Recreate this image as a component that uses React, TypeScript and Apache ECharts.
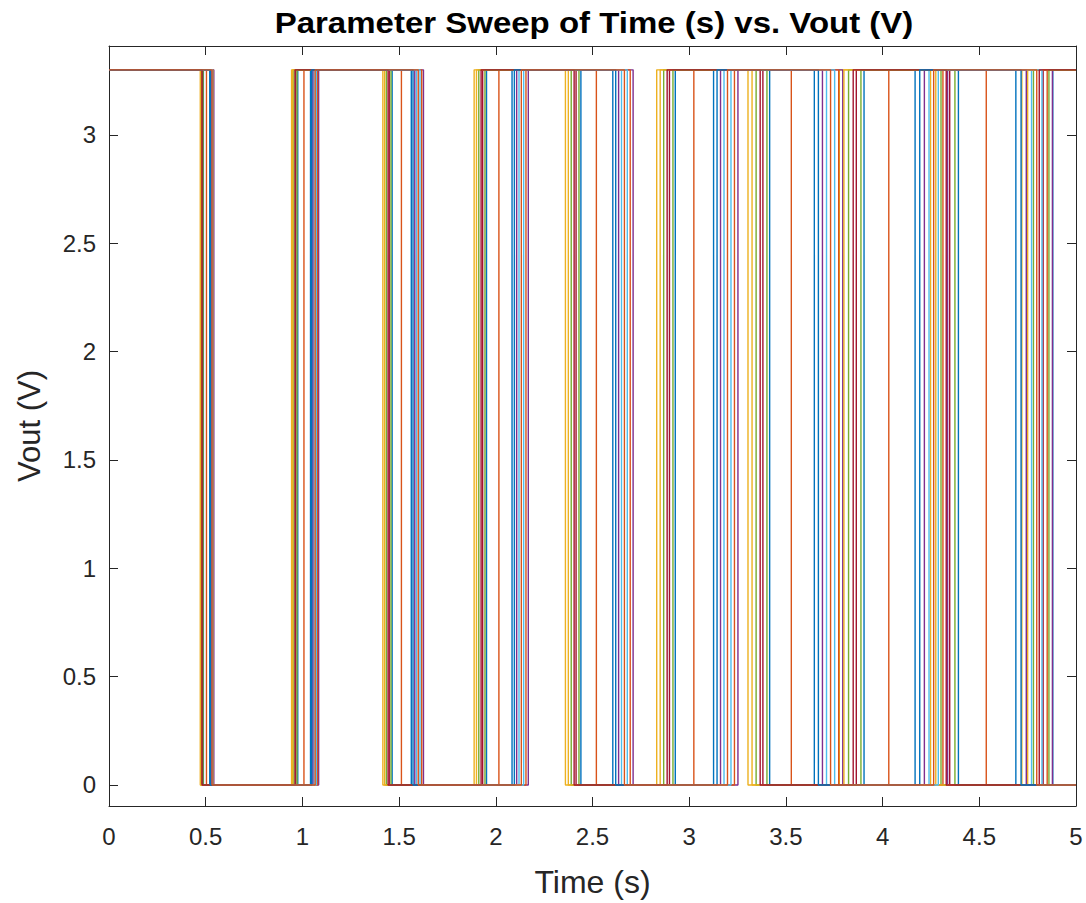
import React, { useEffect, useRef } from "react";
import * as echarts from "echarts";

// Transition (toggle) times of each swept waveform, in seconds. Every wave starts high.
const sw01 = [0.488, 0.976, 1.464, 1.952, 2.44, 2.928, 3.416, 3.904, 4.392, 4.88];
const sw02 = [0.504, 1.008, 1.512, 2.016, 2.52, 3.024, 3.528, 4.032, 4.536];
const sw03 = [0.472, 0.944, 1.416, 1.888, 2.36, 2.832, 3.304, 3.776, 4.248, 4.72];
const sw04 = [0.542, 1.084, 1.626, 2.168, 2.71, 3.252, 3.794, 4.336, 4.878];
const sw05 = [0.478, 0.956, 1.434, 1.912, 2.39, 2.868, 3.346, 3.824, 4.302, 4.78];
const sw06 = [0.53, 1.06, 1.59, 2.12, 2.65, 3.18, 3.71, 4.24, 4.77];
const sw07 = [0.483, 0.966, 1.449, 1.932, 2.415, 2.898, 3.381, 3.864, 4.347, 4.83];
const sw08 = [0.521, 1.042, 1.563, 2.084, 2.605, 3.126, 3.647, 4.168, 4.689];
const sw09 = [0.539, 1.078, 1.617, 2.156, 2.695, 3.234, 3.773, 4.312, 4.851];
const sw10 = [0.475, 0.95, 1.425, 1.9, 2.375, 2.85, 3.325, 3.8, 4.275, 4.75];
const sw11 = [0.527, 1.054, 1.581, 2.108, 2.635, 3.162, 3.689, 4.216, 4.743];
const sw12 = [0.486, 0.972, 1.458, 1.944, 2.43, 2.916, 3.402, 3.888, 4.374, 4.86];
const sw13 = [0.536, 1.072, 1.608, 2.144, 2.68, 3.216, 3.752, 4.288, 4.824];
const sw14 = [0.481, 0.962, 1.443, 1.924, 2.405, 2.886, 3.367, 3.848, 4.329, 4.81];
const sw15 = [0.524, 1.048, 1.572, 2.096, 2.62, 3.144, 3.668, 4.192, 4.716];
const sw16 = [0.533, 1.066, 1.599, 2.132, 2.665, 3.198, 3.731, 4.264, 4.797];

const sweeps = [sw01, sw02, sw03, sw04, sw05, sw06, sw07, sw08, sw09, sw10, sw11, sw12, sw13, sw14, sw15, sw16];

const HIGH = 3.3;
const LOW = 0;
const T_END = 5;

const xTicks = [0, 0.5, 1, 1.5, 2, 2.5, 3, 3.5, 4, 4.5, 5];
const yTicks = [0, 0.5, 1, 1.5, 2, 2.5, 3];

const palette = ["#0072BD", "#D95319", "#EDB120", "#7E2F8E", "#77AC30", "#4DBEEE", "#A2142F"];

function toSteps(edges: number[]): number[][] {
  const pts: number[][] = [[0, HIGH]];
  let level = HIGH;
  for (const t of edges) {
    pts.push([t, level]);
    level = level === HIGH ? LOW : HIGH;
    pts.push([t, level]);
  }
  pts.push([T_END, level]);
  return pts;
}

const FONT = '"Liberation Sans", Arial, Helvetica, sans-serif';
const INK = "#262626";

export default function App() {
  const ref = useRef<HTMLDivElement>(null);
  useEffect(() => {
    if (!ref.current) return;
    const chart = echarts.init(ref.current, undefined, { renderer: "svg" });
    const baseAxisX = {
      type: "value" as const,
      min: 0,
      max: 5,
      interval: 0.5,
      splitLine: { show: false },
      axisLine: { show: true, onZero: false, lineStyle: { color: INK, width: 1 } },
      axisTick: { show: true, inside: true, length: 9, lineStyle: { color: INK, width: 1 } },
    };
    const baseAxisY = {
      type: "value" as const,
      min: -0.097,
      max: 3.41,
      splitLine: { show: false },
      axisLine: { show: true, onZero: false, lineStyle: { color: INK, width: 1 } },
      axisTick: { show: true, inside: true, length: 9, customValues: yTicks, lineStyle: { color: INK, width: 1 } },
    };
    chart.setOption({
      animation: false,
      backgroundColor: "#ffffff",
      textStyle: { fontFamily: FONT },
      graphic: [
        {
          type: "text",
          x: 594,
          y: 23,
          scaleY: 0.88,
          style: {
            text: "Parameter Sweep of Time (s) vs. Vout (V)",
            fontSize: 33,
            fontWeight: "bold",
            fontFamily: FONT,
            fill: "#000000",
            align: "center",
            verticalAlign: "middle",
          },
        },
      ],
      grid: { left: 109, right: 10, top: 46, bottom: 94, containLabel: false },
      xAxis: [
        {
          ...baseAxisX,
          position: "bottom",
          name: "Time (s)",
          nameLocation: "middle",
          nameGap: 60,
          nameTextStyle: { fontSize: 32, color: INK, fontFamily: FONT },
          axisLabel: {
            show: true,
            fontSize: 24,
            color: INK,
            margin: 18,
            fontFamily: FONT,
            customValues: xTicks,
            formatter: (v: number) => String(v),
          },
        },
        {
          ...baseAxisX,
          position: "top",
          axisLabel: { show: false },
        },
      ],
      yAxis: [
        {
          ...baseAxisY,
          position: "left",
          name: "Vout (V)",
          nameLocation: "middle",
          nameGap: 64,
          nameRotate: 90,
          nameTextStyle: { fontSize: 31, color: INK, fontFamily: FONT },
          axisLabel: {
            show: true,
            fontSize: 24,
            color: INK,
            margin: 13,
            fontFamily: FONT,
            customValues: yTicks,
            formatter: (v: number) => String(v),
          },
        },
        {
          ...baseAxisY,
          position: "right",
          axisLabel: { show: false },
        },
      ],
      series: sweeps.map((edges, i) => ({
        type: "line",
        xAxisIndex: 0,
        yAxisIndex: 0,
        data: toSteps(edges),
        showSymbol: false,
        symbol: "none",
        silent: true,
        lineStyle: { color: palette[i % palette.length], width: 1.4 },
        itemStyle: { color: palette[i % palette.length] },
      })),
    });
    return () => chart.dispose();
  }, []);
  return <div ref={ref} style={{ position: "fixed", left: 0, top: 0, width: 1086, height: 903 }} />;
}
